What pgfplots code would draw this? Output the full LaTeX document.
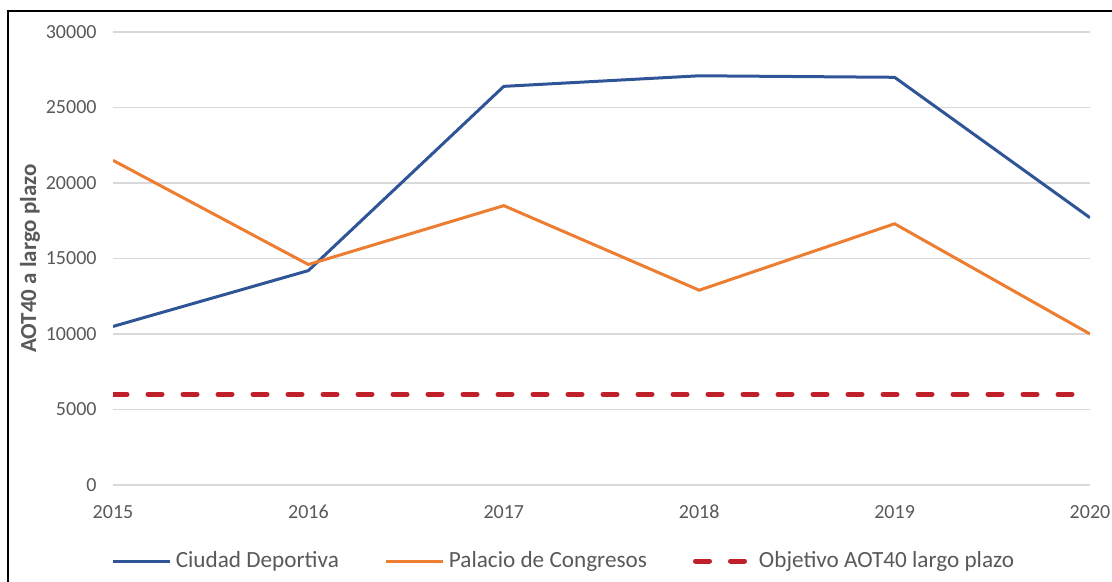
\documentclass[border=0pt]{standalone}
\usepackage{fontspec}
\setmainfont{Carlito}
\usepackage{pgfplots}
\pgfplotsset{compat=1.18}
\definecolor{cdblue}{HTML}{2F5597}
\definecolor{pcorange}{HTML}{ED7D31}
\definecolor{objred}{HTML}{C0202A}
\definecolor{txtgray}{HTML}{595959}
\definecolor{gridgray}{HTML}{D9D9D9}
\begin{document}
\begin{tikzpicture}[x=1pt,y=1pt]
\path[use as bounding box] (0,0) rectangle (556,291);
\draw[black, line width=1pt] (4,0) -- (4,285.5) -- (556,285.5);
\begin{axis}[
    at={(56.5pt,48.5pt)}, anchor=south west,
    scale only axis,
    width=488.5pt, height=226.5pt,
    xmin=2015, xmax=2020, ymin=0, ymax=30000,
    xtick={2015,2016,2017,2018,2019,2020},
    ytick={0,5000,10000,15000,20000,25000,30000},
    scaled y ticks=false,
    /pgf/number format/.cd, 1000 sep={}, assume math mode=true, /pgfplots/.cd,
    axis line style={draw=none},
    major tick length=0pt,
    ymajorgrids,
    grid style={gridgray, line width=0.75pt},
    tick label style={font=\fontsize{10}{12}\selectfont, text=txtgray},
    yticklabel style={xshift=-4.7pt},
    xticklabel style={yshift=-6.5pt},
    ylabel={AOT40 a largo plazo},
    ylabel style={at={(axis description cs:0,0.5)}, anchor=center, yshift=41.5pt,
        font=\fontsize{11.5}{13}\selectfont\bfseries, text=txtgray},
    legend columns=3,
    legend style={at={(axis description cs:0.4626,-0.1678)}, anchor=center,
        draw=none, fill=none, font=\fontsize{11.6}{13}\selectfont, text=txtgray,
        /tikz/every even column/.append style={column sep=21pt}},
    legend image code/.code={\draw[#1] (0pt,0pt) -- (28.5pt,0pt);},
]
\addplot[cdblue, line width=1.5pt] coordinates {
    (2015,10500) (2016,14200) (2017,26400) (2018,27100) (2019,27000) (2020,17700)};
\addlegendentry{Ciudad Deportiva}
\addplot[pcorange, line width=1.5pt] coordinates {
    (2015,21500) (2016,14600) (2017,18500) (2018,12900) (2019,17300) (2020,10000)};
\addlegendentry{Palacio de Congresos}
\addplot[objred, line width=2.5pt, line cap=round, dash pattern=on 7pt off 10.5pt] coordinates {
    (2015,6000) (2016,6000) (2017,6000) (2018,6000) (2019,6000) (2020,6000)};
\addlegendentry{Objetivo AOT40 largo plazo}
\end{axis}
\end{tikzpicture}
\end{document}
